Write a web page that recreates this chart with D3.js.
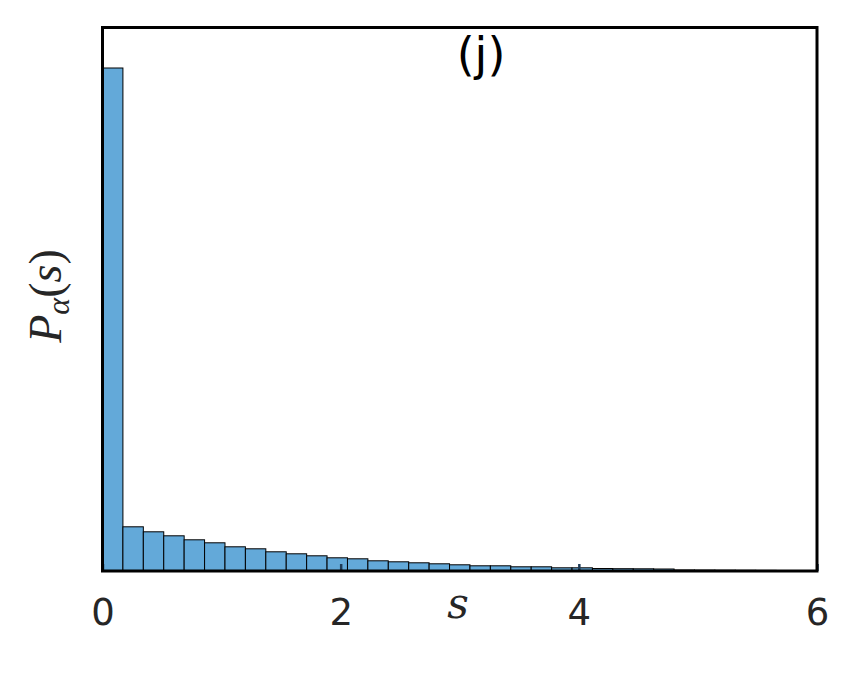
<!DOCTYPE html>
<html>
<head>
<meta charset="utf-8">
<script src="https://cdn.jsdelivr.net/npm/d3@7"></script>
<style>
  html, body { margin: 0; padding: 0; background: #fff; }
  svg { display: block; }
</style>
</head>
<body>
<svg id="chart" width="850" height="680"></svg>
<script>
// ---- data ----
const binWidth = 6 / 35;
const binHeights = [5.03, 0.442, 0.392, 0.352, 0.312, 0.282, 0.242, 0.222, 0.192, 0.172,
                    0.152, 0.132, 0.122, 0.102, 0.092, 0.082, 0.072, 0.062, 0.052, 0.052,
                    0.042, 0.042, 0.032, 0.032, 0.025, 0.023, 0.022, 0.020, 0.010, 0.009,
                    0.008, 0.007, 0.006, 0.005];
const xTicks = [0, 2, 4, 6];
const titleText = "(j)";

// ---- layout ----
const mLeft = 102.5, mRight = 817, mTop = 27.5, mBottom = 571;
const svg = d3.select("#chart");

const x = d3.scaleLinear().domain([0, 6]).range([mLeft, mRight]);
const y = d3.scaleLinear().domain([0, 5.435]).range([mBottom, mTop]);

const bins = binHeights.map((h, i) => ({x0: i * binWidth, x1: (i + 1) * binWidth, h}));

svg.append("g").selectAll("rect").data(bins).join("rect")
  .attr("x", d => x(d.x0))
  .attr("y", d => y(d.h))
  .attr("width", d => x(d.x1) - x(d.x0))
  .attr("height", d => y(0) - y(d.h))
  .attr("fill", "#63a9d9")
  .attr("stroke", "#000")
  .attr("stroke-width", 1);

// ticks (inward)
const xAxis = d3.axisBottom(x).tickValues(xTicks).tickSize(-7).tickFormat(d3.format("d"));
const gx = svg.append("g").attr("transform", `translate(0,${mBottom})`).call(xAxis);
gx.select(".domain").remove();
gx.selectAll(".tick line").attr("stroke", "#1f3b57").attr("stroke-width", 2.5);
gx.selectAll(".tick text")
  .attr("fill", "#262626")
  .attr("font-family", "DejaVu Sans, sans-serif")
  .attr("font-size", 37)
  .attr("dy", null)
  .attr("y", 54);

// frame
svg.append("rect")
  .attr("x", mLeft).attr("y", mTop)
  .attr("width", mRight - mLeft).attr("height", mBottom - mTop)
  .attr("fill", "none").attr("stroke", "#000").attr("stroke-width", 3);

// title
svg.append("text")
  .attr("x", 481).attr("y", 70)
  .attr("text-anchor", "middle")
  .attr("font-family", "DejaVu Sans, sans-serif")
  .attr("font-size", 46)
  .attr("fill", "#000")
  .text(titleText);

// x label
svg.append("text")
  .attr("x", 458).attr("y", 618)
  .attr("text-anchor", "middle")
  .attr("font-family", "DejaVu Serif, serif")
  .attr("font-style", "italic")
  .attr("font-size", 42)
  .attr("fill", "#262626")
  .text("s");

// y label
const yl = svg.append("text")
  .attr("transform", "translate(61,296) rotate(-90)")
  .attr("text-anchor", "middle")
  .attr("font-family", "Liberation Serif, DejaVu Serif, serif")
  .attr("font-size", 46)
  .attr("fill", "#262626");
yl.append("tspan").attr("font-style", "italic").text("P");
yl.append("tspan").attr("font-style", "italic").attr("font-size", 32).attr("dy", 8).text("α");
yl.append("tspan").attr("dy", -8).text("(");
yl.append("tspan").attr("font-style", "italic").text("s");
yl.append("tspan").text(")");
</script>
</body>
</html>
